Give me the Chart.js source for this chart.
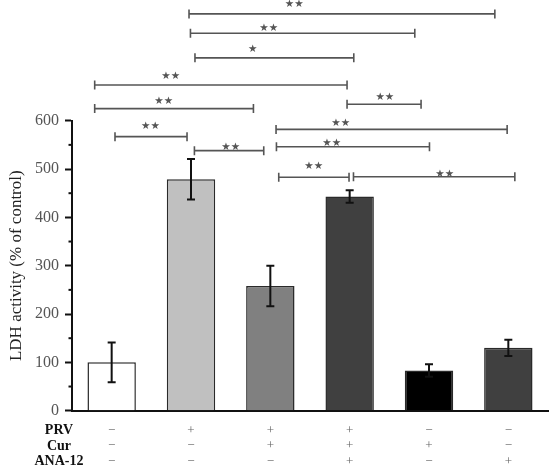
<!DOCTYPE html>
<html>
<head>
<meta charset="utf-8">
<script src="https://cdn.jsdelivr.net/npm/chart.js@4/dist/chart.umd.min.js"></script>
<style>
html,body{margin:0;padding:0;background:#fff;}
#wrap{width:550px;height:469px;position:relative;}
</style>
</head>
<body>
<div id="wrap"><canvas id="c"></canvas></div>
<script>
// ---- data ----
const categories = ['Control', 'PRV', 'PRV+Cur', 'PRV+Cur+ANA-12', 'Cur', 'ANA-12'];
const ldhValues = [100, 479, 258, 443, 83, 130];
const ldhErrors = [41, 42, 42, 13, 13, 17];
const barColors = ['#ffffff', '#c0c0c0', '#808080', '#404040', '#000000', '#404040'];
const yMin = 0, yMax = 600, yStep = 100;
const yTitle = 'LDH activity (% of control)';

// treatment table
const tableRowLabels = ['PRV', 'Cur', 'ANA-12'];
const prvSigns = ['\u2212', '+', '+', '+', '\u2212', '\u2212'];
const curSigns = ['\u2212', '\u2212', '+', '+', '+', '\u2212'];
const anaSigns = ['\u2212', '\u2212', '\u2212', '+', '\u2212', '+'];

// significance brackets (x in category index units, y in % of control)
const bracketStart = [0.975, 0.993, 1.050, -0.214, -0.214, 0.042, 1.043, 2.967, 2.072, 2.077, 2.106, 3.048];
const bracketEnd   = [4.830, 3.821, 3.052, 2.967, 1.787, 0.950, 1.917, 3.900, 4.985, 4.006, 2.992, 5.082];
const bracketLevel = [821, 781, 730, 674, 625, 567, 538, 634, 582, 546, 483, 484];
const bracketLabelX = [2.301, 1.980, 1.778, 0.744, 0.656, 0.488, 1.501, 3.443, 2.888, 2.774, 2.547, 4.199];
const bracketLabelLevel = [841, 792, 748, 693, 641, 590, 546, 650, 595, 554, 507, 490];
const bracketLabels = ['**', '**', '*', '**', '**', '**', '**', '**', '**', '**', '**', '**'];

// ---- plugins ----
const errorBarPlugin = {
  id: 'errorBars',
  afterDatasetsDraw(chart) {
    const ctx = chart.ctx, y = chart.scales.y;
    const meta = chart.getDatasetMeta(0);
    ctx.save();
    ctx.strokeStyle = '#111';
    ctx.lineWidth = 2;
    meta.data.forEach((bar, i) => {
      const x = bar.x;
      const top = y.getPixelForValue(ldhValues[i] + ldhErrors[i]);
      const bot = y.getPixelForValue(ldhValues[i] - ldhErrors[i]);
      ctx.beginPath();
      ctx.moveTo(x, top); ctx.lineTo(x, bot);
      ctx.moveTo(x - 4, top); ctx.lineTo(x + 4, top);
      ctx.moveTo(x - 4, bot); ctx.lineTo(x + 4, bot);
      ctx.stroke();
    });
    ctx.restore();
  }
};

const minorTickPlugin = {
  id: 'minorTicks',
  afterDraw(chart) {
    const ctx = chart.ctx, y = chart.scales.y, left = chart.chartArea.left;
    ctx.save();
    ctx.strokeStyle = '#111';
    ctx.lineWidth = 2;
    for (let v = yMin + yStep / 2; v < yMax; v += yStep) {
      const py = y.getPixelForValue(v);
      ctx.beginPath(); ctx.moveTo(left, py); ctx.lineTo(left - 3.5, py); ctx.stroke();
    }
    ctx.restore();
  }
};

const bracketPlugin = {
  id: 'brackets',
  afterDraw(chart) {
    const ctx = chart.ctx, x = chart.scales.x, y = chart.scales.y;
    ctx.save();
    ctx.strokeStyle = '#555';
    ctx.lineWidth = 1.6;
    bracketStart.forEach((s, i) => {
      const x1 = x.getPixelForValue(s), x2 = x.getPixelForValue(bracketEnd[i]);
      const py = y.getPixelForValue(bracketLevel[i]);
      ctx.beginPath();
      ctx.moveTo(x1, py); ctx.lineTo(x2, py);
      ctx.moveTo(x1, py - 4.5); ctx.lineTo(x1, py + 4.5);
      ctx.moveTo(x2, py - 4.5); ctx.lineTo(x2, py + 4.5);
      ctx.stroke();
    });
    ctx.fillStyle = '#555';
    ctx.font = '10.5px "DejaVu Sans"';
    ctx.textAlign = 'center';
    ctx.textBaseline = 'middle';
    bracketLabels.forEach((t, i) => {
      const lx = x.getPixelForValue(bracketLabelX[i]);
      const ly = y.getPixelForValue(bracketLabelLevel[i]);
      ctx.fillText(t.replace(/\*/g, '\u2605'), lx, ly + 0.5);
    });
    ctx.restore();
  }
};

const tablePlugin = {
  id: 'treatmentTable',
  afterDraw(chart) {
    const ctx = chart.ctx, x = chart.scales.x, area = chart.chartArea;
    const rows = [prvSigns, curSigns, anaSigns];
    ctx.save();
    ctx.textBaseline = 'middle';
    ctx.textAlign = 'center';
    rows.forEach((signs, r) => {
      const py = area.bottom + 19.5 + r * 15.7;
      ctx.fillStyle = '#111';
      ctx.font = 'bold 14px "Liberation Serif"';
      ctx.fillText(tableRowLabels[r], 59, py);
      ctx.fillStyle = '#666';
      ctx.font = '13px "Liberation Serif"';
      signs.forEach((s, i) => ctx.fillText(s, x.getPixelForValue(i), py));
    });
    ctx.restore();
  }
};

new Chart(document.getElementById('c'), {
  type: 'bar',
  data: {
    labels: categories,
    datasets: [{
      data: ldhValues,
      backgroundColor: barColors,
      borderColor: '#2a2a2a',
      borderWidth: 1.5,
      barPercentage: 0.61,
      categoryPercentage: 1
    }]
  },
  options: {
    responsive: true,
    maintainAspectRatio: false,
    animation: false,
    devicePixelRatio: 1,
    layout: { padding: { top: 120.7, bottom: 58.3, left: 0, right: 2 } },
    plugins: { legend: { display: false }, tooltip: { enabled: false } },
    scales: {
      x: {
        grid: { display: false },
        ticks: { display: false },
        border: { color: '#111', width: 2 },
        afterFit(s) { s.height = 0; }
      },
      y: {
        min: yMin, max: yMax,
        ticks: {
          stepSize: yStep,
          color: '#555',
          padding: 6,
          font: { family: '"Liberation Serif"', size: 16 }
        },
        grid: { drawOnChartArea: false, drawTicks: true, tickLength: 7, tickColor: '#111', tickWidth: 2 },
        border: { color: '#111', width: 2 },
        title: {
          display: true,
          text: yTitle,
          color: '#222',
          padding: { top: 6.5, bottom: 0 },
          font: { family: '"Liberation Serif"', size: 17 }
        },
        afterFit(s) { s.width = 72; }
      }
    }
  },
  plugins: [errorBarPlugin, minorTickPlugin, bracketPlugin, tablePlugin]
});
</script>
</body>
</html>
